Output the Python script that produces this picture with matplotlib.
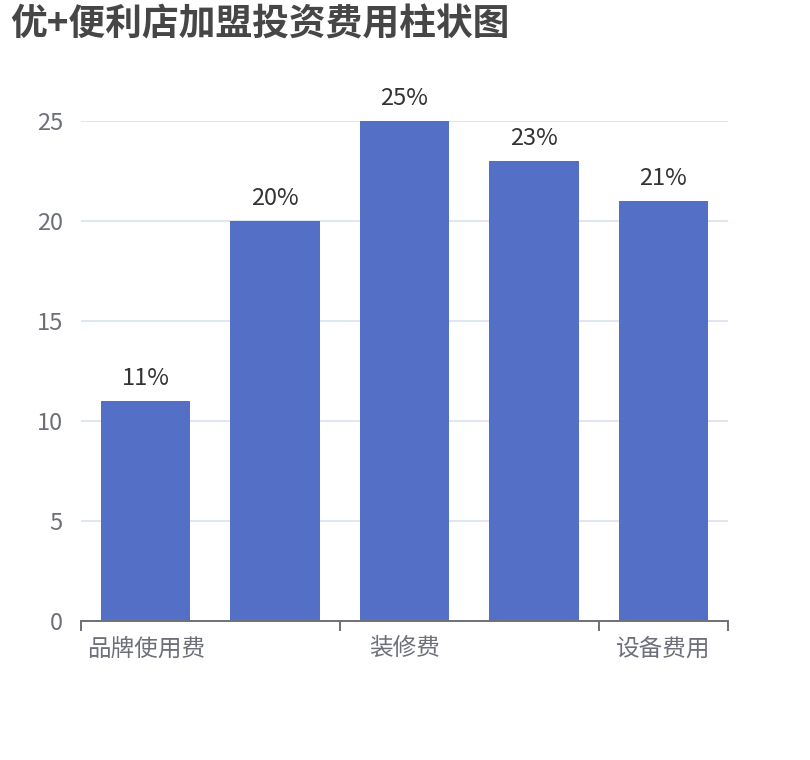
import matplotlib
matplotlib.use('Agg')
import matplotlib.pyplot as plt
import numpy as np

plt.rcParams['font.family'] = ['Noto Sans CJK SC', 'DejaVu Sans']

title = "优+便利店加盟投资费用柱状图"
# the 2nd and 4th category names are hidden in the chart (label interval), names are placeholders
categories = ["品牌使用费", "加盟费", "装修费", "首批进货", "设备费用"]
values = [11, 20, 25, 23, 21]
labels = ["11%", "20%", "25%", "23%", "21%"]
y_ticks = [0, 5, 10, 15, 20, 25]

bar_color = "#5470C6"
axis_color = "#6E7079"
grid_color = "#E0E6F1"

fig = plt.figure(figsize=(8.1, 7.6), dpi=100)
ax = fig.add_axes([81 / 810, 139.3 / 760, 647 / 810, 500 / 760])

x = np.arange(len(categories))
bars = ax.bar(x, values, width=0.69, color=bar_color, zorder=3)

for xi, v, lab in zip(x, values, labels):
    ax.annotate(lab, (xi, v), xytext=(0, 7.5), textcoords="offset points",
                ha="center", va="bottom", fontsize=17, color="#333333")

ax.set_xlim(-0.5, len(categories) - 0.5)
ax.set_ylim(0, 25)
ax.set_yticks(y_ticks)
ax.set_yticklabels([str(t) for t in y_ticks])
ax.tick_params(axis="y", length=0, pad=13, labelsize=17, labelcolor=axis_color)
ax.grid(axis="y", color=grid_color, linewidth=1.4, zorder=0)

# only every other category label is shown
ax.set_xticks(x)
ax.set_xticklabels([c if i % 2 == 0 else "" for i, c in enumerate(categories)])
ax.tick_params(axis="x", which="major", length=0, pad=12, labelsize=17, labelcolor=axis_color)
ax.set_xticks([-0.5, 1.5, 3.5, 4.5], minor=True)
ax.tick_params(axis="x", which="minor", length=7, width=1.4, color=axis_color)

for side in ["top", "right", "left"]:
    ax.spines[side].set_visible(False)
ax.spines["bottom"].set_color(axis_color)
ax.spines["bottom"].set_linewidth(1.4)
ax.spines["bottom"].set_zorder(4)

fig.text(10 / 810, 1 - 25 / 760, title, fontsize=26.5, fontweight="bold",
         color="#464646", ha="left", va="center")

fig.savefig("out.png", dpi=100)
